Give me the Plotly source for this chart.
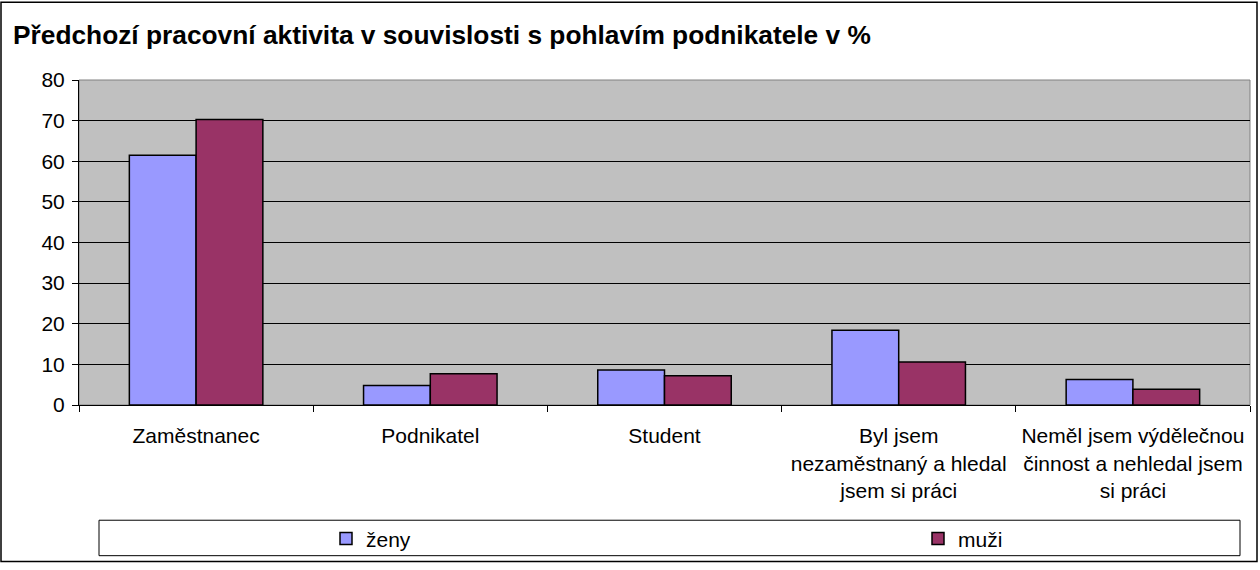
import plotly.graph_objects as go

categories = [
    "Zaměstnanec",
    "Podnikatel",
    "Student",
    "Byl jsem<br>nezaměstnaný a hledal<br>jsem si práci",
    "Neměl jsem výdělečnou<br>činnost a nehledal jsem<br>si práci",
]
zeny = [61.5, 4.8, 8.6, 18.4, 6.3]
muzi = [70.3, 7.7, 7.2, 10.6, 3.9]
y_ticks = [0, 10, 20, 30, 40, 50, 60, 70, 80]

FONT = "Liberation Sans, Arial, sans-serif"

W, H = 1260, 570
L, R, T, B = 79, 10, 80, 160
pw = W - L - R
ph = H - T - B

def px_x(x):
    return (x - L) / pw

def px_y(y):
    return (H - B - y) / ph

fig = go.Figure()
fig.add_trace(go.Bar(name="ženy", x=categories, y=zeny, legend="legend",
                     marker=dict(color="#9999FF", line=dict(color="black", width=1.5))))
fig.add_trace(go.Bar(name="muži", x=categories, y=muzi, legend="legend2",
                     marker=dict(color="#993366", line=dict(color="black", width=1.5))))

leg_common = dict(orientation="h", yanchor="middle", y=px_y(546),
                  xanchor="left", itemwidth=30, font=dict(size=21),
                  bgcolor="rgba(0,0,0,0)", borderwidth=0)

fig.update_layout(
    width=W, height=H,
    margin=dict(l=L, r=R, t=T, b=B),
    paper_bgcolor="white",
    plot_bgcolor="#C0C0C0",
    barmode="group",
    bargap=0.43,
    bargroupgap=0,
    font=dict(family=FONT, size=21, color="black"),
    title=dict(text="<b>Předchozí pracovní aktivita v souvislosti s pohlavím podnikatele v %</b>",
               x=13 / W, xanchor="left", xref="container",
               y=1 - 35 / H, yanchor="middle", yref="container",
               font=dict(family=FONT, size=26.3, color="black")),
    xaxis=dict(showgrid=False, showline=True, linecolor="black", linewidth=1,
               ticks="outside", tickson="boundaries", ticklen=6, tickcolor="black",
               tickfont=dict(size=21), ticklabelstandoff=12),
    yaxis=dict(range=[0, 80], tickvals=y_ticks, showgrid=True, gridcolor="#000000",
               gridwidth=1, showline=True, linecolor="black", linewidth=1,
               ticks="outside", ticklen=6, tickcolor="black", zeroline=False,
               tickfont=dict(size=21), ticklabelstandoff=3),
    showlegend=True,
    legend=dict(leg_common, x=px_x(326)),
    legend2=dict(leg_common, x=px_x(918)),
    shapes=[
        dict(type="rect", xref="paper", yref="paper",
             x0=px_x(1), x1=px_x(1257), y0=px_y(569), y1=px_y(1),
             line=dict(color="black", width=1.5), layer="below"),
        dict(type="rect", xref="paper", yref="paper",
             x0=0, x1=1, y0=0, y1=1, line=dict(color="#808080", width=1), layer="below"),
        dict(type="rect", xref="paper", yref="paper",
             x0=px_x(99), x1=px_x(1240), y0=px_y(563), y1=px_y(527),
             line=dict(color="black", width=1), layer="below"),
    ],
)

post = (
    "document.documentElement.style.margin='0';"
    "document.body.style.margin='0';"
    "document.body.style.overflow='hidden';"
)

fig.write_html("out.html", config={"displayModeBar": False}, post_script=post)
